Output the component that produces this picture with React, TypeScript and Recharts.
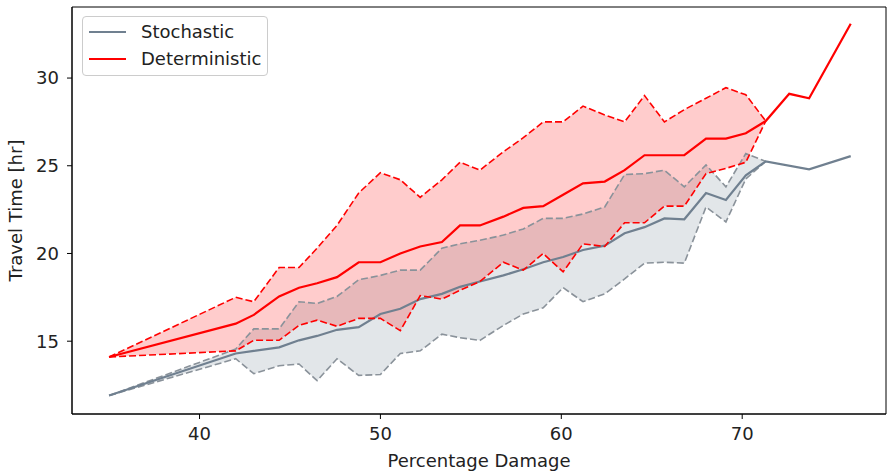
import { ComposedChart, Area, Line, XAxis, YAxis, ReferenceArea } from 'recharts';

// percentage damage (x) — spacing
const damage = [35, 42, 43, 44.4, 45.5, 46.5, 47.6, 48.8, 50, 51.1, 52.2, 53.4, 54.4, 55.5, 56.8, 57.9, 59, 60.1, 61.2, 62.4, 63.5, 64.6, 65.7, 66.8, 68, 69.1, 70.2, 71.3, 72.6, 73.7, 76];

const stoMean = [11.9, 14.3, 14.45, 14.65, 15.05, 15.3, 15.65, 15.8, 16.55, 16.85, 17.4, 17.7, 18.1, 18.4, 18.75, 19.1, 19.5, 19.8, 20.2, 20.45, 21.15, 21.5, 22.0, 21.95, 23.45, 23.05, 24.45, 25.25, null, 24.8, 25.55];
const stoUpper = [11.9, 14.55, 15.7, 15.7, 17.25, 17.15, 17.55, 18.5, 18.75, 19.05, 19.05, 20.3, 20.55, 20.75, 21.05, 21.4, 22.0, 22.0, 22.25, 22.65, 24.5, 24.55, 24.75, 23.8, 25.05, 23.8, 25.7, 25.25, null, null, null];
const stoLower = [11.9, 14.0, 13.15, 13.6, 13.7, 12.75, 14.0, 13.05, 13.1, 14.3, 14.45, 15.4, 15.2, 15.05, 15.9, 16.55, 16.9, 18.05, 17.25, 17.7, 18.55, 19.45, 19.5, 19.45, 22.65, 21.8, 24.25, 25.25, null, null, null];

const detMean = [14.1, 16.0, 16.5, 17.55, 18.05, 18.3, 18.65, 19.5, 19.5, 20.0, 20.4, 20.65, 21.6, 21.6, 22.1, 22.6, 22.7, 23.35, 24.0, 24.1, 24.75, 25.6, 25.6, 25.6, 26.55, 26.55, 26.85, 27.55, 29.1, 28.85, 33.1];
const detUpper = [14.1, 17.5, 17.25, 19.2, 19.2, 20.3, 21.6, 23.45, 24.6, 24.2, 23.2, 24.2, 25.2, 24.75, 25.8, 26.6, 27.5, 27.5, 28.4, 27.9, 27.5, 29.0, 27.5, 28.2, 28.85, 29.45, 29.05, 27.55, null, null, null];
const detLower = [14.1, 14.45, 15.05, 15.05, 15.9, 16.2, 15.85, 16.3, 16.3, 15.6, 17.6, 17.4, 17.9, 18.4, 19.5, 19.05, 20.0, 18.95, 20.55, 20.4, 21.75, 21.75, 22.7, 22.7, 24.55, 24.85, 25.2, 27.55, null, null, null];

const xTicks = [40, 50, 60, 70];
const yTicks = [15, 20, 25, 30];
const X_DOMAIN = [32.95, 77.95];
const Y_DOMAIN = [10.85, 34.05];

const FONT = '"DejaVu Sans", sans-serif';
const TEXT = '#222222';
const SLATE = '#708090';
const SLATE_DASH = '#8a929a';
const RED = '#ff0000';

const data = damage.map((x, i) => ({
  x,
  stoMean: stoMean[i],
  stoUpper: stoUpper[i],
  stoLower: stoLower[i],
  detMean: detMean[i],
  detUpper: detUpper[i],
  detLower: detLower[i],
}));

const band = (lo: string, hi: string) => (d: any) =>
  d[lo] == null ? null : [d[lo], d[hi]];

function LegendBox() {
  const row = (label: string, color: string, top: number) => (
    <div style={{ position: 'absolute', left: 6, top, display: 'flex', alignItems: 'center' }}>
      <div style={{ width: 37, height: 2, background: color }} />
      <span style={{ marginLeft: 15, fontSize: 18, lineHeight: '20px', color: TEXT }}>{label}</span>
    </div>
  );
  return (
    <div
      style={{
        position: 'absolute', left: 82, top: 16, width: 186, height: 60,
        border: '1px solid #cccccc', borderRadius: 4, background: 'rgba(255,255,255,0.8)',
        fontFamily: FONT, boxSizing: 'border-box',
      }}
    >
      {row('Stochastic', SLATE, 5)}
      {row('Deterministic', RED, 32)}
    </div>
  );
}

export default function App() {
  return (
    <div style={{ position: 'relative', width: 888, height: 474, background: '#fff' }}>
      <style>{'body{margin:0}'}</style>
      <ComposedChart
        width={888}
        height={474}
        data={data}
        margin={{ top: 7, right: 2, bottom: 0, left: 0 }}
        style={{ fontFamily: FONT }}
      >
        <XAxis
          dataKey="x"
          type="number"
          domain={X_DOMAIN}
          ticks={xTicks}
          allowDataOverflow
          height={60}
          stroke="#000"
          tickSize={5}
          tickMargin={8}
          tick={{ fontSize: 18, fill: TEXT, fontFamily: FONT }}
          label={{ value: 'Percentage Damage', position: 'insideBottom', offset: 7, style: { fontSize: 18, fill: TEXT, fontFamily: FONT } }}
        />
        <YAxis
          type="number"
          domain={Y_DOMAIN}
          ticks={yTicks}
          allowDataOverflow
          width={72}
          stroke="#000"
          tickSize={5}
          tickMargin={8}
          tick={{ fontSize: 18, fill: TEXT, fontFamily: FONT }}
          label={{ value: 'Travel Time [hr]', angle: -90, position: 'insideLeft', offset: 16, style: { textAnchor: 'middle', fontSize: 18, fill: TEXT, fontFamily: FONT } }}
        />

        <Area dataKey={band('stoLower', 'stoUpper')} stroke="none" fill={SLATE} fillOpacity={0.2} isAnimationActive={false} dot={false} activeDot={false} />
        <Line dataKey="stoLower" stroke={SLATE_DASH} strokeWidth={1.6} strokeDasharray="7 3" dot={false} activeDot={false} isAnimationActive={false} />
        <Line dataKey="stoUpper" stroke={SLATE_DASH} strokeWidth={1.6} strokeDasharray="7 3" dot={false} activeDot={false} isAnimationActive={false} />
        <Line dataKey="stoMean" stroke={SLATE} strokeWidth={2.2} connectNulls dot={false} activeDot={false} isAnimationActive={false} />

        <Area dataKey={band('detLower', 'detUpper')} stroke="none" fill={RED} fillOpacity={0.2} isAnimationActive={false} dot={false} activeDot={false} />
        <Line dataKey="detLower" stroke={RED} strokeWidth={1.6} strokeDasharray="7 3" dot={false} activeDot={false} isAnimationActive={false} />
        <Line dataKey="detUpper" stroke={RED} strokeWidth={1.6} strokeDasharray="7 3" dot={false} activeDot={false} isAnimationActive={false} />
        <Line dataKey="detMean" stroke={RED} strokeWidth={2.2} dot={false} activeDot={false} isAnimationActive={false} />

        {/* frame: top and right spines */}
        <ReferenceArea x1={X_DOMAIN[0]} x2={X_DOMAIN[1]} y1={Y_DOMAIN[0]} y2={Y_DOMAIN[1]} fill="none" fillOpacity={0} stroke="#000" strokeWidth={1} ifOverflow="visible" />
      </ComposedChart>
      <LegendBox />
    </div>
  );
}
